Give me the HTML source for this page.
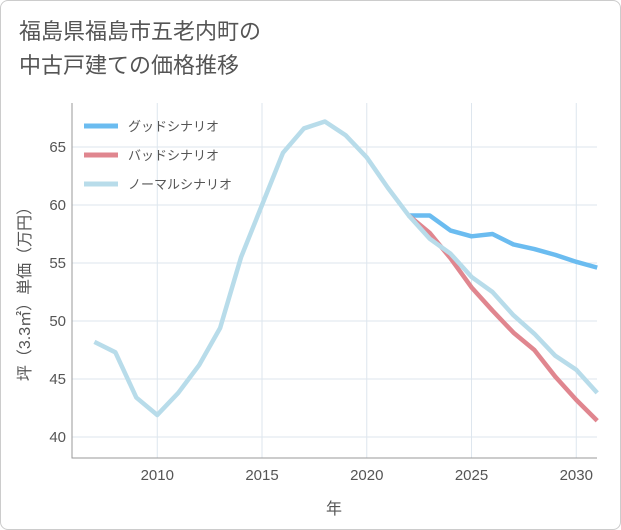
<!DOCTYPE html>
<html><head><meta charset="utf-8"><style>
body{margin:0;background:#fff;font-family:"Liberation Sans","Noto Sans CJK JP",sans-serif;}
#wrap{position:relative;width:619px;height:528px;border:1px solid #ccc;border-radius:8px;background:#fff;}
#title{position:absolute;left:18px;top:14px;font-size:22px;line-height:34px;color:#555;}
</style></head><body>
<div id="wrap">
<div id="title">福島県福島市五老内町の<br>中古戸建ての価格推移</div>
<svg id="chart" width="621" height="530" style="position:absolute;left:-1px;top:-1px"></svg>
</div>
<script>
const years=[2007,2008,2009,2010,2011,2012,2013,2014,2015,2016,2017,2018,2019,2020,2021,2022,2023,2024,2025,2026,2027,2028,2029,2030,2031];
const normal=[48.2,47.3,43.4,41.9,43.8,46.2,49.4,55.5,60,64.5,66.6,67.2,66,64.1,61.5,59.1,57.1,55.8,53.8,52.5,50.5,48.9,47,45.8,43.8];
const goodYears=[2022,2023,2024,2025,2026,2027,2028,2029,2030,2031];
const good=[59.1,59.1,57.8,57.3,57.5,56.6,56.2,55.7,55.1,54.6];
const bad=[59.1,57.6,55.4,52.9,50.9,49.0,47.5,45.2,43.2,41.4];
const xTicks=[2010,2015,2020,2025,2030];
const yTicks=[40,45,50,55,60,65];
const L=72,R=597,T=103,B=458;
const x=v=>L+(v-2005.93)*20.95;
const y=v=>147+(65-v)*11.6;
const svg=document.getElementById('chart');
const NS='http://www.w3.org/2000/svg';
function mk(t,a){const e=document.createElementNS(NS,t);for(const k in a)e.setAttribute(k,a[k]);svg.appendChild(e);return e;}
xTicks.forEach(v=>{const l=mk('line',{x1:x(v),x2:x(v),y1:T,y2:B,stroke:'#dde6ee'});


const t=mk('text',{x:x(v),y:B+22,'text-anchor':'middle','font-size':15,fill:'#555'});t.textContent=v;

});
yTicks.forEach(v=>{const l=mk('line',{x1:L,x2:R,y1:y(v),y2:y(v),stroke:'#dde6ee'});


const t=mk('text',{x:L-6,y:y(v)+5,'text-anchor':'end','font-size':15,fill:'#555'});t.textContent=v;

});
const ax=mk('path',{d:`M${L} ${T}V${B}H${R}`,fill:'none',stroke:'#999'});


function line(xs,vs,c,name){const p=mk('polyline',{points:xs.map((yr,i)=>x(yr)+','+y(vs[i])).join(' '),fill:'none',stroke:c,'stroke-width':4.5,'stroke-linejoin':'round'});

}
line(goodYears,good,'#6bbcf0','good-scenario-line');
line(goodYears,bad,'#e0868f','bad-scenario-line');
line(years,normal,'#b8dcea','normal-scenario-line');
const leg=[['グッドシナリオ','#6bbcf0',126],['バッドシナリオ','#e0868f',155],['ノーマルシナリオ','#b8dcea',184]];
leg.forEach(([n,c,yy])=>{const l=mk('line',{x1:84,x2:118,y1:yy,y2:yy,stroke:c,'stroke-width':5});


const t=mk('text',{x:128,y:yy+5,'font-size':13,fill:'#555'});t.textContent=n;

});
const xt=mk('text',{x:334,y:514,'text-anchor':'middle','font-size':16,fill:'#555'});xt.textContent='年';


const yt=mk('text',{x:0,y:0,'text-anchor':'middle','font-size':16,fill:'#555',transform:'translate(30,290) rotate(-90)'});yt.textContent='坪（3.3㎡）単価（万円）';


</script>
</body></html>
